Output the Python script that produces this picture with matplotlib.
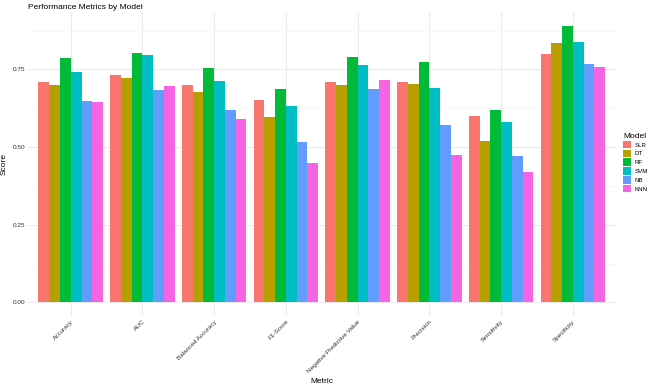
import matplotlib
matplotlib.use('Agg')
import matplotlib.pyplot as plt
import numpy as np
from matplotlib.patches import Patch

plt.rcParams['font.family'] = ['Liberation Sans', 'DejaVu Sans']

METRICS = ['Accuracy', 'AUC', 'Balanced Accuracy', 'F1-Score',
           'Negative Predictive Value', 'Precision', 'Sensitivity',
           'Specificity']
MODELS = ['SLR', 'DT', 'RF', 'SVM', 'NB', 'KNN']

# scores per model, one value per metric (same order as METRICS)
slr = [0.709, 0.731, 0.699, 0.652, 0.709, 0.709, 0.599, 0.799]
dt = [0.700, 0.721, 0.677, 0.597, 0.700, 0.702, 0.519, 0.835]
rf = [0.786, 0.802, 0.753, 0.687, 0.791, 0.774, 0.619, 0.890]
svm = [0.742, 0.795, 0.712, 0.631, 0.764, 0.690, 0.582, 0.838]
nb = [0.648, 0.685, 0.619, 0.516, 0.687, 0.571, 0.472, 0.766]
knn = [0.644, 0.698, 0.590, 0.448, 0.717, 0.476, 0.421, 0.759]

COLORS = ['#F8766D', '#B79F00', '#00BA38', '#00BFC4', '#619CFF', '#F564E3']


def main() -> None:
    scores = [slr, dt, rf, svm, nb, knn]
    fig = plt.figure(figsize=(6.52, 3.84), dpi=100)
    ax = fig.add_axes([0.0425, 0.1763, 0.902, 0.7922])

    x = np.arange(len(METRICS))
    n = len(MODELS)
    width = 0.9 / n
    for i, (name, vals) in enumerate(zip(MODELS, scores)):
        offs = -0.45 + width * (i + 0.5)
        ax.bar(x + offs, vals, width, color=COLORS[i], label=name,
               zorder=2, linewidth=0)

    top = max(max(v) for v in scores)
    pad = top * 0.05
    ax.set_ylim(-pad, top + pad)
    ax.set_xlim(-0.6, len(METRICS) - 1 + 0.6)

    # ggplot theme_minimal style grid
    ax.set_yticks([0, 0.25, 0.5, 0.75])
    ax.set_yticklabels(['0.00', '0.25', '0.50', '0.75'])
    ax.set_yticks([0.125, 0.375, 0.625, 0.875], minor=True)
    ax.grid(axis='y', which='major', color='#EBEBEB', linewidth=0.8, zorder=0)
    ax.grid(axis='y', which='minor', color='#F5F5F5', linewidth=0.5, zorder=0)
    ax.set_xticks(x)
    ax.set_xticklabels(METRICS, rotation=45, ha='right', va='top',
                       rotation_mode='anchor')
    ax.grid(axis='x', which='major', color='#EBEBEB', linewidth=0.8, zorder=0)
    for s in ax.spines.values():
        s.set_visible(False)
    ax.tick_params(axis='both', which='both', length=0, labelsize=4.6,
                   colors='#4D4D4D', labelcolor='#333333')
    ax.tick_params(axis='y', pad=1.5)
    ax.tick_params(axis='x', pad=2)

    ax.set_xlabel('Metric', fontsize=6, labelpad=3)
    ax.set_ylabel('Score', fontsize=6, labelpad=4)
    fig.text(0.043, 0.99, 'Performance Metrics by Model', fontsize=6,
             ha='left', va='top')

    handles = [Patch(facecolor=c, label=m) for c, m in zip(COLORS, MODELS)]
    leg = fig.legend(handles=handles, title='Model', loc='center left',
                     bbox_to_anchor=(0.956, 0.577), frameon=False,
                     fontsize=4.4, title_fontsize=6, handlelength=1.3,
                     handleheight=1.5, handletextpad=0.6, labelspacing=0.22,
                     borderaxespad=0, borderpad=0)
    leg._legend_box.align = 'left'

    fig.savefig('out.png', dpi=100)


if __name__ == '__main__':
    main()
